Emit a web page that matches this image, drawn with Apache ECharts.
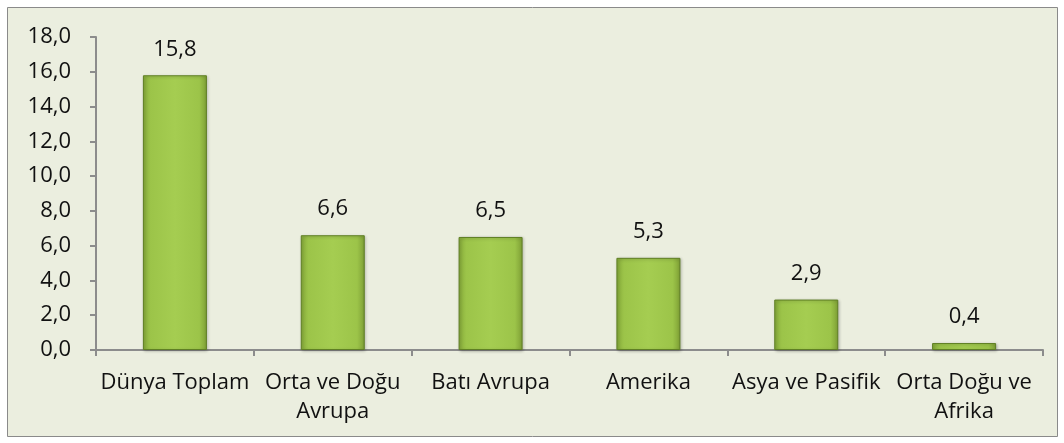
<!DOCTYPE html>
<html>
<head>
<meta charset="utf-8">
<script src="https://cdn.jsdelivr.net/npm/echarts@6/dist/echarts.min.js"></script>
<style>
  html, body { margin: 0; padding: 0; background: #ffffff; }
  #chart { width: 1064px; height: 443px; }
</style>
</head>
<body>
<div id="chart"></div>
<script>
// ----------data----------
const regions = ['Dünya Toplam', 'Orta ve Doğu\nAvrupa', 'Batı Avrupa', 'Amerika', 'Asya ve Pasifik', 'Orta Doğu ve\nAfrika'];
const shares = [15.8, 6.6, 6.5, 5.3, 2.9, 0.4];
const yTicks = { min: 0, max: 18, step: 2 };

// virgüllü ondalık
const fmt = (v) => Number(v).toFixed(1).replace('.', ',');

const chart = echarts.init(document.getElementById('chart'));

const barFill = new echarts.graphic.LinearGradient(0, 0, 1, 0, [
  { offset: 0, color: '#86aa3a' },
  { offset: 0.12, color: '#9cc449' },
  { offset: 0.5, color: '#a5cd51' },
  { offset: 0.88, color: '#9cc449' },
  { offset: 1, color: '#7e9f35' },
]);

chart.setOption({
  backgroundColor: '#ffffff',
  textStyle: { fontFamily: '"Open Sans", "DejaVu Sans", sans-serif' },
  graphic: [
    {
      type: 'rect',
      z: -10,
      shape: { x: 7.5, y: 7.5, width: 1050, height: 429 },
      style: { fill: '#ebeedf', stroke: '#8a8a8a', lineWidth: 1 },
    },
  ],
  grid: { left: 96, right: 21, top: 37, bottom: 93 },
  xAxis: {
    type: 'category',
    data: regions,
    axisLine: { lineStyle: { color: '#8c8c8c', width: 2 } },
    axisTick: { show: true, length: 6, alignWithLabel: false, lineStyle: { color: '#8c8c8c', width: 2 } },
    axisLabel: {
      interval: 0,
      color: '#111',
      fontSize: 22,
      lineHeight: 29,
      margin: 18,
    },
  },
  yAxis: {
    type: 'value',
    min: yTicks.min,
    max: yTicks.max,
    interval: yTicks.step,
    splitLine: { show: false },
    axisLine: { show: true, lineStyle: { color: '#8c8c8c', width: 2 } },
    axisTick: { show: true, length: 6, lineStyle: { color: '#8c8c8c', width: 2 } },
    axisLabel: { color: '#111', fontSize: 22, margin: 25, formatter: fmt },
  },
  series: [
    {
      type: 'bar',
      data: shares,
      barWidth: 64,
      itemStyle: {
        color: barFill,
        borderColor: '#5f7f24',
        borderWidth: 1,
        shadowColor: 'rgba(0,0,0,0.25)',
        shadowBlur: 3,
        shadowOffsetX: 1,
        shadowOffsetY: 1,
      },
      label: {
        show: true,
        position: 'top',
        distance: 15,
        color: '#111',
        fontSize: 22,
        formatter: (p) => fmt(p.value),
      },
    },
  ],
});
</script>
</body>
</html>
